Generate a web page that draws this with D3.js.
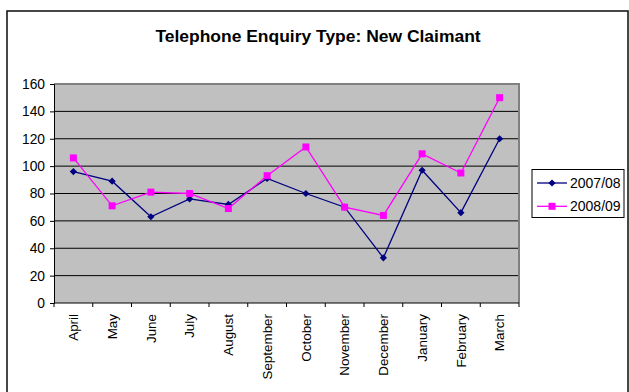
<!DOCTYPE html>
<html>
<head>
<meta charset="utf-8">
<script src="https://cdn.jsdelivr.net/npm/d3@7"></script>
<style>
  html, body { margin: 0; padding: 0; background: #fff; }
  svg { display: block; }
  svg text { font-family: "Liberation Sans", Arial, sans-serif; }
</style>
</head>
<body>
<svg id="chart" width="629" height="392"></svg>
<script>
// Monthly new-claimant telephone enquiries, two financial years
const months = ["April", "May", "June", "July", "August", "September",
  "October", "November", "December", "January", "February", "March"];
const series0708 = [96, 89, 63, 76, 72, 91, 80, 70, 33, 97, 66, 120];
const series0809 = [106, 71, 81, 80, 69, 93, 114, 70, 64, 109, 95, 150];
const yTicks = [0, 20, 40, 60, 80, 100, 120, 140, 160];
const seriesNames = ["2007/08", "2008/09"];

const svg = d3.select("#chart");

// outer chart frame
svg.append("rect")
  .attr("x", 7).attr("y", 11).attr("width", 621).attr("height", 400)
  .attr("fill", "#fff").attr("stroke", "#1a1a1a").attr("stroke-width", 1.6);

// title (slightly widened bold face)
svg.append("text")
  .attr("transform", "translate(318,41.5) scale(1.12,1)")
  .attr("text-anchor", "middle")
  .attr("font-size", 15.6).attr("font-weight", "bold")
  .text("Telephone Enquiry Type: New Claimant");

const plot = { left: 54, right: 519, top: 84, bottom: 303 };

const x = d3.scaleBand().domain(months).range([plot.left, plot.right]).padding(0);
const y = d3.scaleLinear().domain([0, 160]).range([plot.bottom, plot.top]);

// plot background
svg.append("rect")
  .attr("x", plot.left).attr("y", plot.top)
  .attr("width", plot.right - plot.left).attr("height", plot.bottom - plot.top)
  .attr("fill", "#c0c0c0");

// horizontal gridlines
svg.append("g")
  .selectAll("line")
  .data(yTicks.filter(d => d > 0 && d < 160))
  .join("line")
  .attr("x1", plot.left).attr("x2", plot.right)
  .attr("y1", d => y(d)).attr("y2", d => y(d))
  .attr("stroke", "#000").attr("stroke-width", 1);

// plot border (top/right grey)
svg.append("path")
  .attr("d", `M${plot.left},${plot.top}H${plot.right}V${plot.bottom}`)
  .attr("fill", "none").attr("stroke", "#808080").attr("stroke-width", 2);

// y axis
const yAxis = d3.axisLeft(y).tickValues(yTicks).tickSize(4).tickPadding(5);
const gy = svg.append("g").attr("transform", `translate(${plot.left},0)`).call(yAxis);
gy.attr("font-family", null);
gy.select(".domain").attr("stroke", "#000").attr("stroke-width", 1);
gy.selectAll(".tick line").attr("stroke", "#000");
gy.selectAll(".tick text").attr("font-size", 13.8).attr("fill", "#000");

// x axis: ticks at category boundaries, labels rotated
const gx = svg.append("g").attr("transform", `translate(0,${plot.bottom})`);
gx.append("line")
  .attr("x1", plot.left).attr("x2", plot.right)
  .attr("stroke", "#000").attr("stroke-width", 1);
const bounds = months.map(m => x(m)).concat([x(months[months.length - 1]) + x.bandwidth()]);
gx.selectAll("line.tk")
  .data(bounds)
  .join("line").attr("class", "tk")
  .attr("x1", d => d).attr("x2", d => d)
  .attr("y1", 0).attr("y2", 4)
  .attr("stroke", "#000");
gx.selectAll("text")
  .data(months)
  .join("text")
  .attr("transform", d => `translate(${x(d) + x.bandwidth() / 2},11) rotate(-90)`)
  .attr("text-anchor", "end")
  .attr("dy", "0.35em")
  .attr("font-size", 13.4)
  .text(d => d);

// series
const cx = i => x(months[i]) + x.bandwidth() / 2;
const line = d3.line()
  .x((d, i) => cx(i))
  .y(d => y(d));

svg.append("path").datum(series0708)
  .attr("d", line).attr("fill", "none")
  .attr("stroke", "#000080").attr("stroke-width", 1.3);
svg.append("path").datum(series0809)
  .attr("d", line).attr("fill", "none")
  .attr("stroke", "#ff00ff").attr("stroke-width", 1.3);

svg.append("g").selectAll("path")
  .data(series0708)
  .join("path")
  .attr("transform", (d, i) => `translate(${cx(i)},${y(d)}) rotate(45)`)
  .attr("d", d3.symbol().type(d3.symbolSquare).size(26))
  .attr("fill", "#000080");

svg.append("g").selectAll("rect")
  .data(series0809)
  .join("rect")
  .attr("x", (d, i) => cx(i) - 3.5).attr("y", d => y(d) - 3.5)
  .attr("width", 7).attr("height", 7)
  .attr("fill", "#ff00ff");

// legend
const lg = svg.append("g");
lg.append("rect")
  .attr("x", 532).attr("y", 169.5).attr("width", 92).attr("height", 48)
  .attr("fill", "#fff").attr("stroke", "#000").attr("stroke-width", 1);
const legendItems = [
  { name: seriesNames[0], color: "#000080", marker: "diamond" },
  { name: seriesNames[1], color: "#ff00ff", marker: "square" }
];
legendItems.forEach((it, i) => {
  const ly = 183 + i * 23.3;
  lg.append("line")
    .attr("x1", 537).attr("x2", 567).attr("y1", ly).attr("y2", ly)
    .attr("stroke", it.color).attr("stroke-width", 1.3);
  if (it.marker === "diamond") {
    lg.append("path")
      .attr("transform", `translate(552,${ly}) rotate(45)`)
      .attr("d", d3.symbol().type(d3.symbolSquare).size(26))
      .attr("fill", it.color);
  } else {
    lg.append("rect")
      .attr("x", 548.5).attr("y", ly - 3.5).attr("width", 7).attr("height", 7)
      .attr("fill", it.color);
  }
  lg.append("text")
    .attr("x", 570).attr("y", ly).attr("dy", "0.36em")
    .attr("font-size", 14)
    .text(it.name);
});
</script>
</body>
</html>
